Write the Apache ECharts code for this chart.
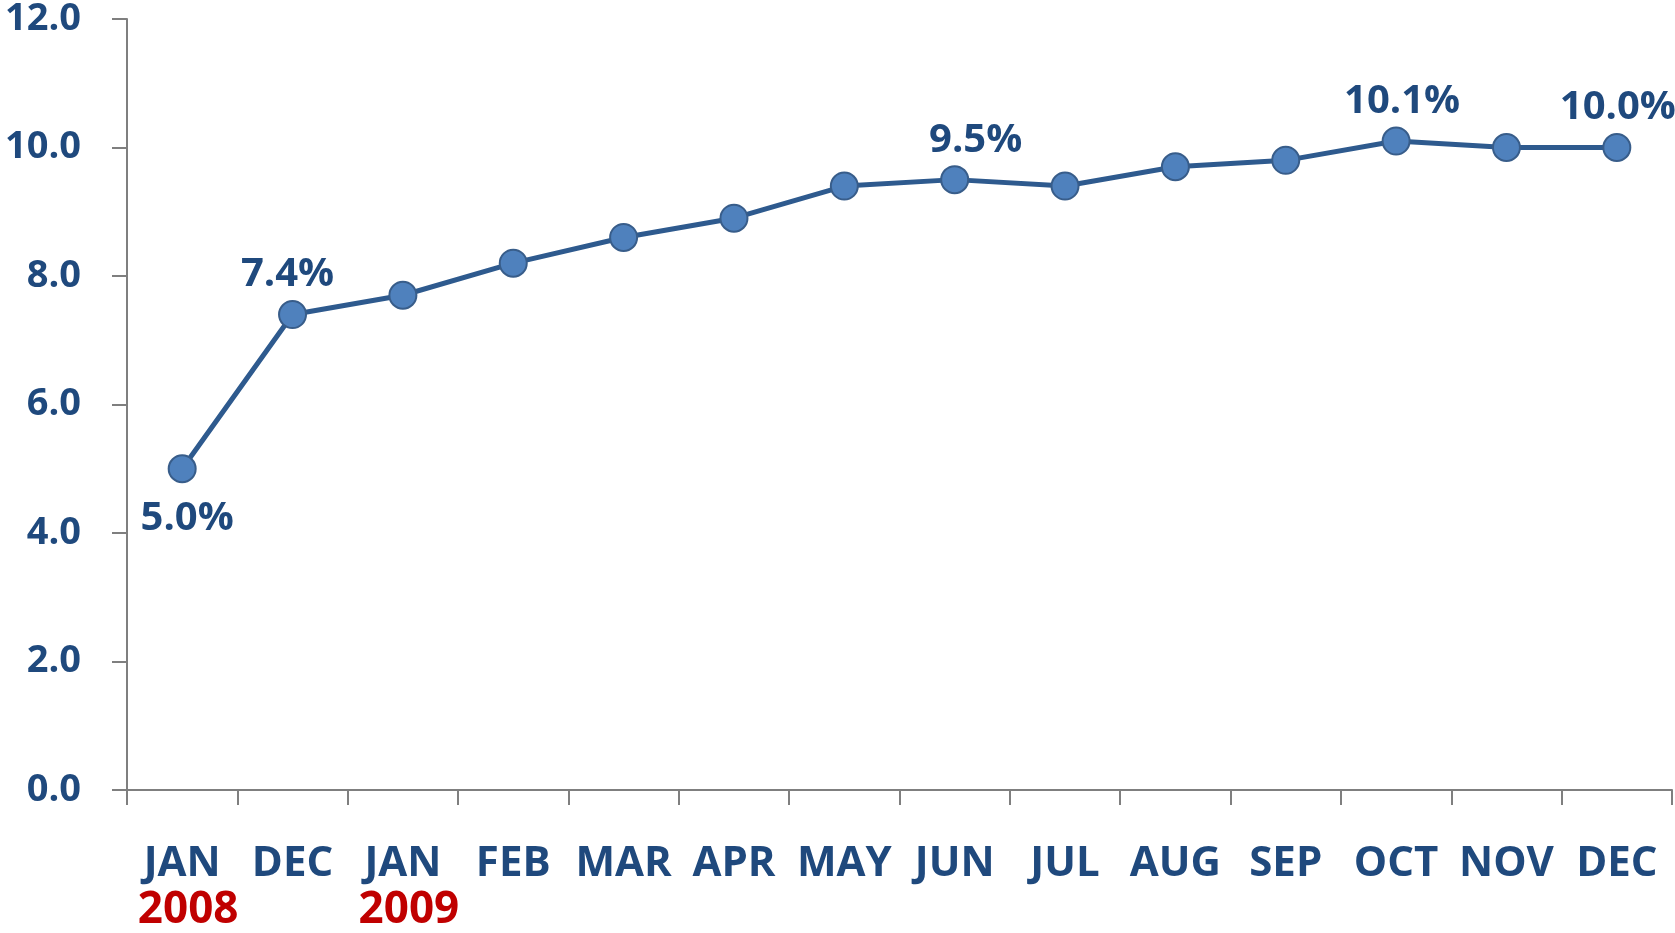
<!DOCTYPE html>
<html><head><meta charset="utf-8">
<script src="https://cdn.jsdelivr.net/npm/echarts@6/dist/echarts.min.js"></script>
<style>html,body{margin:0;padding:0;background:#fff}#c{width:1675px;height:933px}</style>
</head><body><div id="c"></div>
<script>
const categories = ['JAN','DEC','JAN','FEB','MAR','APR','MAY','JUN','JUL','AUG','SEP','OCT','NOV','DEC'];
const yearLabels = ['2008','','2009','','','','','','','','','','',''];
const values = [5.0, 7.4, 7.7, 8.2, 8.6, 8.9, 9.4, 9.5, 9.4, 9.7, 9.8, 10.1, 10.0, 10.0];
const labelledPoints = [0, 1, 7, 11, 13];
const yTicks = [0, 2, 4, 6, 8, 10, 12];

const blue = '#1f497d';
const labelOffsets = {0:[5,-3], 1:[-5,9], 7:[21,9], 11:[6,9], 13:[1,9]};

const data = values.map((v, i) => {
  const d = {value: v};
  if (labelledPoints.includes(i)) {
    d.label = {
      show: true,
      position: i === 0 ? 'bottom' : 'top',
      distance: i === 0 ? 18 : 14,
      offset: labelOffsets[i],
      formatter: p => p.value.toFixed(1) + '%',
      fontFamily: 'Open Sans', fontWeight: 'bold', fontSize: 40, color: blue
    };
  }
  return d;
});

const chart = echarts.init(document.getElementById('c'));
chart.setOption({
  animation: false,
  grid: {left: 127, right: 3, top: 15, bottom: 142, containLabel: false},
  xAxis: {
    type: 'category',
    data: categories,
    axisLine: {lineStyle: {color: '#7f7f7f', width: 2}},
    axisTick: {show: true, length: 15, lineStyle: {color: '#7f7f7f', width: 2}},
    axisLabel: {
      margin: 51,
      interval: 0,
      fontFamily: 'Open Sans', fontWeight: 'bold', fontSize: 42, color: blue, lineHeight: 46,
      formatter: (v, i) => yearLabels[i] ? v + '\n{y|' + yearLabels[i] + '}' : v,
      rich: {y: {fontFamily: 'Open Sans', fontWeight: 'bold', fontSize: 44, color: '#c00000', lineHeight: 46, padding: [0, 0, 0, 12]}}
    }
  },
  yAxis: {
    type: 'value', min: 0, max: 12, interval: 2,
    axisLine: {show: true, lineStyle: {color: '#7f7f7f', width: 2}},
    axisTick: {show: true, length: 15, lineStyle: {color: '#7f7f7f', width: 2}},
    splitLine: {show: false},
    axisLabel: {
      margin: 46,
      fontFamily: 'Open Sans', fontWeight: 'bold', fontSize: 38, color: blue,
      formatter: v => yTicks.includes(v) ? v.toFixed(1) : ''
    }
  },
  series: [{
    type: 'line',
    data: data,
    symbol: 'circle',
    symbolSize: 27,
    lineStyle: {color: '#2e5a8e', width: 5},
    itemStyle: {color: '#4f81bd', borderColor: '#385d8a', borderWidth: 2},
    z: 3
  }]
});
</script></body></html>
